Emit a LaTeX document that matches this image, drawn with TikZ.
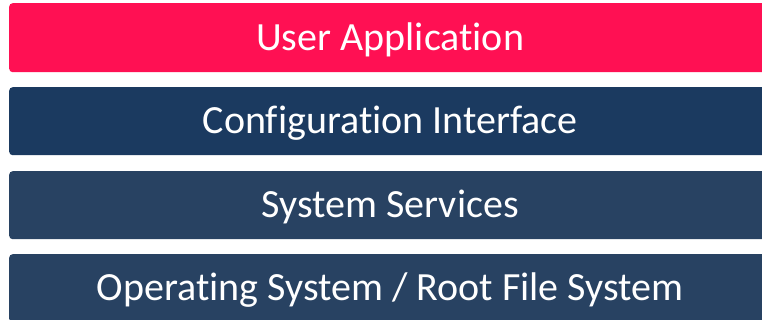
\documentclass[tikz,border=0pt]{standalone}
\usepackage{fontspec}
\setmainfont[Ligatures=NoCommon]{Carlito}
\definecolor{appred}{HTML}{FF1053}
\definecolor{cfgnavy}{HTML}{1B3A60}
\definecolor{slate}{HTML}{284262}
\begin{document}
\begin{tikzpicture}[x=1pt,y=-1pt,
  layer/.style={rounded corners=3.5pt, text=white, font=\fontsize{40}{46}\selectfont,
    text height=25.5pt, text depth=0pt,
    minimum width=762pt, anchor=north west, inner sep=0pt}]
\clip (0,0) rectangle (762,320);
\useasboundingbox (0,0) rectangle (762,320);
\node[layer, fill=appred, minimum height=69pt] (app) at (9,3) {User Application};
\node[layer, fill=cfgnavy, minimum height=68pt] (cfg) at (9,87) {Configuration Interface};
\node[layer, fill=slate, minimum height=68pt] (svc) at (9,171) {System Services};
\node[layer, fill=slate, minimum height=68pt] (os) at (9,254) {Operating System / Root File System};
\end{tikzpicture}
\end{document}
